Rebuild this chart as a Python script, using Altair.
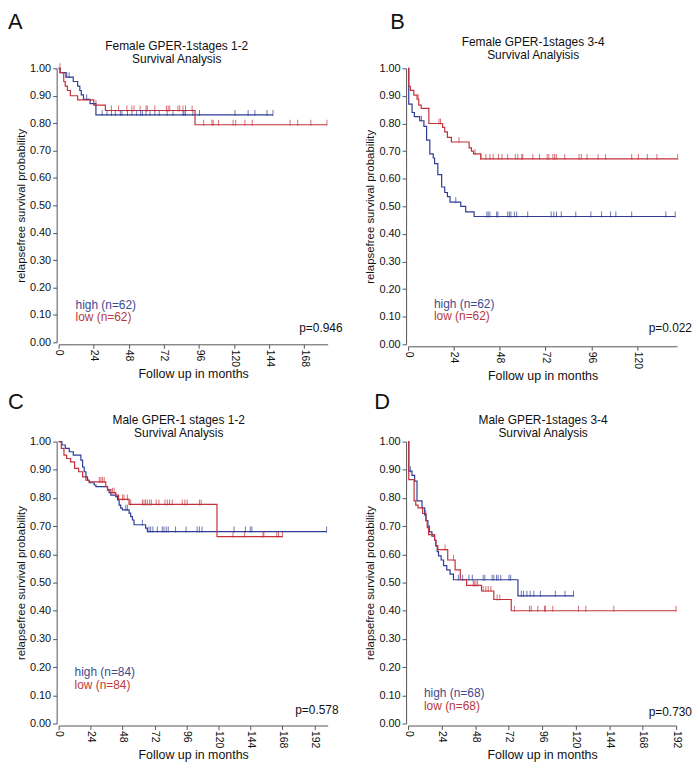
import altair as alt
import pandas as pd

BLUE = "#2F3C96"
RED = "#C4313A"
BLUE_TXT = "#3D4A8F"
RED_TXT = "#B83A3A"
FONT = "Liberation Sans"

Y_TICKS = [0.0, 0.1, 0.2, 0.3, 0.4, 0.5, 0.6, 0.7, 0.8, 0.9, 1.0]

# ---------------- Panel A : Female stages 1-2 ----------------
A_high_t = [0, 1, 5, 10, 13, 14.5, 15.5, 17, 21.5, 25.5, 146.6]
A_high_s = [1.0, 0.984, 0.968, 0.952, 0.935, 0.919, 0.903, 0.887, 0.871, 0.830, 0.830]
A_high_c = [5.6, 7.2, 19.2, 29.8, 33.1, 36.1, 38.8, 42.2, 43.3, 47.1, 50.1, 53.4, 56.1, 57.3,
            59.8, 62.5, 65.8, 68.8, 74.2, 78.2, 85.0, 85.7, 86.8, 91.8, 96.3, 120.6, 129.6,
            134.2, 142.5, 146.6]
A_low_t = [0, 1, 3.5, 4.5, 6, 8, 13, 24, 32, 93.3, 183.5]
A_low_s = [1.0, 0.984, 0.952, 0.935, 0.919, 0.900, 0.885, 0.866, 0.846, 0.794, 0.794]
A_low_c = [0.9, 25.5, 36.1, 41.0, 46.7, 50.1, 51.6, 55.7, 59.8, 60.7, 65.8, 73.7, 74.9, 76.0,
           81.6, 82.8, 85.0, 86.8, 91.3, 99.2, 104.9, 105.7, 109.4, 119.3, 121.1, 127.4,
           132.4, 158.3, 163.5, 172.5, 183.5]

# ---------------- Panel B : Female stages 3-4 ----------------
B_high_t = [0, 0.35, 2.1, 3.3, 6.1, 8.3, 9.7, 11.4, 13.2, 13.9, 15.6, 17.6, 19.2, 20.6, 22.0,
            27.6, 30.2, 34.6, 140.0]
B_high_s = [1.0, 0.87, 0.84, 0.825, 0.81, 0.79, 0.74, 0.69, 0.675, 0.655, 0.615, 0.57, 0.55,
            0.535, 0.515, 0.50, 0.48, 0.463, 0.463]
B_high_c = [7.0, 25.0, 41.3, 42.0, 42.9, 46.4, 47.1, 52.2, 53.1, 53.9, 55.7, 56.9, 62.7, 75.0,
            76.4, 77.8, 80.3, 87.9, 95.8, 101.4, 106.1, 108.9, 117.2, 135.1, 140.0]
B_low_t = [0, 0.35, 1.2, 3.0, 4.7, 5.6, 6.9, 10.9, 18.1, 19.2, 20.6, 22.7, 32.0, 33.2, 34.3,
           38.1, 141.3]
B_low_s = [1.0, 0.935, 0.92, 0.903, 0.888, 0.867, 0.855, 0.80, 0.786, 0.77, 0.75, 0.733, 0.712,
           0.70, 0.69, 0.672, 0.672]
B_low_c = [5.3, 16.2, 17.0, 26.7, 35.1, 38.1, 40.8, 42.9, 44.6, 47.4, 49.2, 52.2, 56.2, 57.5,
           59.6, 60.1, 65.4, 68.9, 72.9, 73.8, 75.9, 76.8, 77.7, 82.1, 89.6, 90.8, 93.8, 99.6,
           103.5, 117.2, 120.7, 125.4, 130.4, 141.3]

# ---------------- Panel C : Male stages 1-2 ----------------
C_high_t = [0, 2.5, 5, 8, 11, 16.7, 18.0, 19.2, 20.5, 21.7, 23.0, 26.7, 28.0, 36.7, 37.9, 39.2,
            42.9, 44.2, 45.4, 46.6, 47.9, 52.9, 54.1, 55.4, 56.6, 65.3, 66.6, 201.2]
C_high_s = [1.0, 0.988, 0.976, 0.964, 0.952, 0.934, 0.910, 0.893, 0.875, 0.863, 0.854, 0.846,
            0.840, 0.828, 0.819, 0.810, 0.805, 0.793, 0.775, 0.764, 0.758, 0.746, 0.734, 0.722,
            0.705, 0.693, 0.681, 0.681]
C_high_c = [50.4, 51.6, 62.9, 67.8, 69.1, 70.8, 74.1, 77.8, 79.1, 80.8, 82.3, 87.8, 95.7, 104.0,
            105.7, 107.7, 131.7, 140.2, 143.9, 145.1, 201.2]
C_low_t = [0, 2, 4, 6, 9, 12, 15, 18.0, 20.5, 23.0, 35.4, 36.7, 39.2, 42.9, 45.0, 52.9, 118.9,
           168.1]
C_low_s = [1.0, 0.976, 0.952, 0.940, 0.928, 0.905, 0.893, 0.875, 0.863, 0.857, 0.840, 0.830,
           0.819, 0.810, 0.795, 0.777, 0.663, 0.663]
C_low_c = [30.5, 31.7, 32.9, 34.2, 40.4, 41.7, 47.9, 49.1, 51.6, 54.1, 62.9, 64.1, 65.3, 66.6,
           68.3, 69.6, 73.3, 75.3, 79.8, 81.6, 83.3, 85.3, 92.8, 94.8, 96.5, 105.7, 107.0,
           130.9, 139.6, 153.4, 154.1, 163.8, 165.1, 168.1]

# ---------------- Panel D : Male stages 3-4 ----------------
D_high_t = [0, 0.5, 2.8, 4.7, 6.4, 10.0, 11.9, 12.8, 14.2, 15.2, 17.1, 19.0, 19.9, 20.9, 21.8,
            23.7, 25.4, 27.7, 30.1, 32.5, 78.7, 118.5]
D_high_s = [1.0, 0.895, 0.88, 0.86, 0.79, 0.765, 0.74, 0.72, 0.70, 0.68, 0.665, 0.65, 0.63,
            0.61, 0.595, 0.58, 0.56, 0.545, 0.53, 0.51, 0.453, 0.453]
D_high_c = [1.7, 12.3, 36.0, 39.1, 43.6, 46.0, 53.8, 55.0, 60.2, 61.4, 63.3, 64.5, 66.4, 72.3,
            73.5, 81.1, 82.7, 85.1, 87.5, 90.1, 94.8, 105.5, 112.4, 118.5]
D_low_t = [0, 0.5, 4.3, 5.5, 7.1, 10.4, 12.8, 13.7, 14.7, 19.0, 19.9, 21.3, 28.4, 33.7, 37.4,
           41.9, 52.6, 61.4, 73.9, 192.0]
D_low_s = [1.0, 0.865, 0.79, 0.775, 0.765, 0.745, 0.72, 0.695, 0.67, 0.65, 0.63, 0.617, 0.58,
           0.545, 0.51, 0.49, 0.47, 0.44, 0.40, 0.40]
D_low_c = [26.5, 32.5, 46.7, 47.4, 48.6, 49.8, 53.8, 55.7, 57.4, 59.3, 63.8, 65.7, 76.3, 87.0,
           88.2, 92.9, 97.7, 98.4, 103.6, 122.1, 127.3, 147.4, 192.0]

TITLES = [("Female GPER-1stages 1-2", "Survival Analysis"),
          ("Female GPER-1stages 3-4", "Survival Analyisis"),
          ("Male GPER-1 stages 1-2", "Survival Analysis"),
          ("Male GPER-1stages 3-4", "Survival Analysis")]
LETTERS = ["A", "B", "C", "D"]
N_LABELS = [62, 62, 84, 68]
P_VALUES = ["p=0.946", "p=0.022", "p=0.578", "p=0.730"]
X_MAX = [184, 141, 202, 192]
X_TICKS = [[0, 24, 48, 72, 96, 120, 144, 168],
           [0, 24, 48, 72, 96, 120],
           [0, 24, 48, 72, 96, 120, 144, 168, 192],
           [0, 24, 48, 72, 96, 120, 144, 168, 192]]


def step_value(ts, ss, t):
    v = ss[0]
    for ti, si in zip(ts, ss):
        if ti <= t:
            v = si
    return v


ONE = pd.DataFrame({"k": [0]})


def txt(s, x, y, size, color="#111111", align="left", baseline="alphabetic"):
    return alt.Chart(ONE).mark_text(
        text=s, align=align, baseline=baseline, fontSize=size, font=FONT, color=color
    ).encode(x=alt.value(x), y=alt.value(y))


def panel(i, ht, hs, hc, lt, ls, lc, w, h, lay):
    rows = []
    for g, ts, ss in (("high", ht, hs), ("low", lt, ls)):
        for j, (t, s) in enumerate(zip(ts, ss)):
            rows.append({"t": t, "s": s, "g": g, "i": j})
    ldf = pd.DataFrame(rows)
    crow = []
    for g, ts, ss, cs in (("high", ht, hs, hc), ("low", lt, ls, lc)):
        for c in cs:
            crow.append({"t": c, "s": step_value(ts, ss, c), "g": g})
    cdf = pd.DataFrame(crow)

    color = alt.Color("g:N", scale=alt.Scale(domain=["high", "low"], range=[BLUE, RED]),
                      legend=None)
    xax = alt.Axis(values=X_TICKS[i], labelAngle=90, title="Follow up in months",
                   offset=2, tickSize=4, labelPadding=1, labelFontSize=10.5,
                   titlePadding=1, titleFontSize=12.5, labelOverlap=False, labelFlush=False)
    yax = alt.Axis(values=Y_TICKS, format=".2f", title="relapsefree survival probability",
                   offset=2, tickSize=4, labelPadding=2, labelFontSize=11, titlePadding=3,
                   titleFontSize=11.5, labelOverlap=False, labelFlush=False)
    xs = alt.Scale(domain=[0, X_MAX[i]], nice=False, zero=True)
    ys = alt.Scale(domain=[0, 1], nice=False)
    line = alt.Chart(ldf).mark_line(interpolate="step-after", strokeWidth=1.2).encode(
        x=alt.X("t:Q", scale=xs, axis=xax), y=alt.Y("s:Q", scale=ys, axis=yax),
        color=color, detail="g:N", order="i:Q")
    ticks = alt.Chart(cdf).mark_tick(orient="vertical", size=6, thickness=1, yOffset=-2).encode(
        x=alt.X("t:Q", scale=xs, axis=xax), y=alt.Y("s:Q", scale=ys, axis=yax), color=color)

    t1, t2 = TITLES[i]
    texts = [
        txt(LETTERS[i], lay["lx"], lay["ly"], 22, baseline="top"),
        txt(t1, lay["tx"], lay["t1"], 12, align="center"),
        txt(t2, lay["tx"], lay["t1"] + 13, 12, align="center"),
        txt("high (n=%d)" % N_LABELS[i], lay["gx"], h + lay["g1"], 12, color=BLUE_TXT),
        txt("low (n=%d)" % N_LABELS[i], lay["gx"], h + lay["g1"] + 13, 12, color=RED_TXT),
        txt(P_VALUES[i], lay["px"], h + lay["py"], 12, align="right"),
    ]
    return alt.layer(line, ticks, *texts).properties(width=w, height=h)


A = panel(0, A_high_t, A_high_s, A_high_c, A_low_t, A_low_s, A_low_c, 271, 276,
          dict(lx=-51, ly=-57, tx=119, t1=-18, gx=17, g1=-34, px=286, py=-10))
B = panel(1, B_high_t, B_high_s, B_high_c, B_low_t, B_low_s, B_low_c, 271, 278,
          dict(lx=-18, ly=-57, tx=126, t1=-22, gx=26, g1=-37, px=286, py=-12))
C = panel(2, C_high_t, C_high_s, C_high_c, C_low_t, C_low_s, C_low_c, 271, 284,
          dict(lx=-51, ly=-50, tx=121, t1=-18, gx=16, g1=-48, px=282, py=-10))
D = panel(3, D_high_t, D_high_s, D_high_c, D_low_t, D_low_s, D_low_c, 270, 284,
          dict(lx=-34, ly=-50, tx=136, t1=-18, gx=16, g1=-27, px=286, py=-8))

chart = alt.concat(A, B, C, D, columns=2, spacing={"row": 98, "column": 81},
                   bounds="flush").properties(padding=0).configure_view(
    stroke=None
).configure_axis(
    grid=False, domainColor="#555555", tickColor="#555555", labelColor="#111111",
    titleColor="#111111", labelFont=FONT, titleFont=FONT, titleFontWeight="normal",
    domainWidth=1, tickWidth=1
)

chart.save("out.html", embed_options={"renderer": "svg", "actions": False})
